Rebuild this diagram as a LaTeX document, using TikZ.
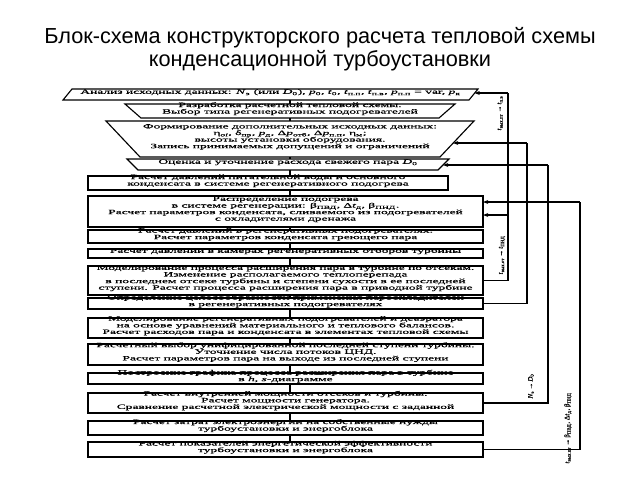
\documentclass[tikz,border=0pt]{standalone}
\usepackage{fontspec}
\setmainfont{Liberation Serif}
\newfontfamily\titlefont{Liberation Sans}
\newfontfamily\boxfont{Liberation Serif}[FakeStretch=2.04,FakeBold=0.8]
\newfontfamily\lblfont{Liberation Serif}[FakeBold=0.6]
\usetikzlibrary{arrows.meta,calc,fit}
\newcommand\sbs[1]{\textsubscript{#1}}
\tikzset{
  bx/.style={inner sep=0pt, align=center, text width=#1,
    font=\boxfont\fontsize{4.95}{4.95}\selectfont,
    execute at begin node={\baselineskip=4.95pt\lineskiplimit=-5pt\lineskip=0pt}},
  bx/.default=295pt,
  rbox/.style={bx=#1, draw, line width=0.85pt},
  rbox/.default=295pt,
  outline/.style={line width=0.85pt},
  conn/.style={line width=0.8pt},
  fb/.style={line width=0.8pt},
  tip/.style={-{Stealth[length=4pt,width=3pt]}},
  lbl/.style={rotate=90, inner sep=0pt, font=\lblfont\fontsize{5.2}{5.2}\selectfont},
  ttl/.style={align=center, inner sep=0pt, font=\titlefont\fontsize{16.3}{17.3}\selectfont}
}
\begin{document}
\begin{tikzpicture}[x=0.75pt,y=-0.75pt]
\useasboundingbox (0,0) rectangle (640,480);
\node[ttl] (title) at (320,49) {Блок-схема конструкторского расчета тепловой схемы\\конденсационной турбоустановки};

\coordinate (spine) at (290,0);
\coordinate (v1) at (508,0);
\coordinate (v2) at (527,0);
\coordinate (v3) at (548,0);
\coordinate (v4) at (580,0);

% box 1: parallelogram
\node[bx=305pt, fit={(63,89)(478,100)}] (b1) {Анализ исходных данных: \textit{N}\sbs{э} (или \textit{D}\sbs{0}), \textit{p}\sbs{0}, \textit{t}\sbs{0}, \textit{t}\sbs{п.п}, \textit{t}\sbs{п.в}, \textit{p}\sbs{п.п} = var, \textit{p}\sbs{к}};
\draw[outline] (72,89) -- (478,89) -- (469,100) -- (63,100) -- cycle;

% box 2
\node[bx=245pt, fit={(125,104)(455,118)}] (b2) {Разработка расчетной тепловой схемы.\\Выбор типа регенеративных подогревателей};
\draw[outline] (125,104) -- (455,104) -- (439,118) -- (141,118) -- cycle;

% box 3
\node[bx=274pt, fit={(106,121)(474,157)}] (b3) {Формирование дополнительных исходных данных:\\η\sbs{\textit{oi}}, δ\sbs{пр}, \textit{p}\sbs{д}, Δ\textit{p}\sbs{отб}, Δ\textit{p}\sbs{п.п}, η\sbs{м};\\высоты установки оборудования.\\Запись принимаемых допущений и ограничений};
\draw[outline] (106,121) -- (474,121) -- (440,157) -- (140,157) -- cycle;

% box 4
\node[bx=240pt, fit={(127,159)(449,170)}] (b4) {Оценка и уточнение расхода свежего пара \textit{D}\sbs{0}};
\draw[outline] (127,159) -- (449,159) -- (438,170) -- (138,170) -- cycle;

\node[rbox=268pt, fit={(88,176)(448,190)}] (b5) {Расчет давлений питательной воды и основного\\конденсата в системе регенеративного подогрева};
\node[rbox, fit={(88,196)(483,227)}] (b6) {Распределение подогрева\\в системе регенерации: β\sbs{ПВД}, Δ\textit{t}\sbs{д}, β\sbs{ПНД}.\\Расчет параметров конденсата, сливаемого из подогревателей\\с охладителями дренажа};
\node[rbox, fit={(88,230)(483,243)}] (b7) {Расчет давлений в регенеративных подогревателях.\\Расчет параметров конденсата греющего пара};
\node[rbox, fit={(88,249)(483,258)}] (b8) {Расчет давлений в камерах регенеративных отборов турбины};
\node[rbox, fit={(88,266)(483,295)}] (b9) {Моделирование процесса расширения пара в турбине по отсекам.\\Изменение располагаемого теплоперепада\\в последнем отсеке турбины и степени сухости в ее последней\\ступени. Расчет процесса расширения пара в приводной турбине};
\node[rbox, fit={(88,298)(483,309)}] (b10) {Определение целесообразности применения пароохладителей\\в регенеративных подогревателях};
\node[rbox, fit={(88,318)(483,338)}] (b11) {Моделирование регенеративных подогревателей и деаэратора\\на основе уравнений материального и теплового балансов.\\Расчет расходов пара и конденсата в элементах тепловой схемы};
\node[rbox, fit={(88,344)(483,365)}] (b12) {Расчетный выбор унифицированной последней ступени турбины.\\Уточнение числа потоков ЦНД.\\Расчет параметров пара на выходе из последней ступени};
\node[rbox, fit={(88,373)(483,384)}] (b13) {Построение графика процесса расширения пара в турбине\\в \textit{h}, \textit{s}-диаграмме};
\node[rbox, fit={(88,393)(483,413)}] (b14) {Расчет внутренней мощности отсеков и турбины.\\Расчет мощности генератора.\\Сравнение расчетной электрической мощности с заданной};
\node[rbox, fit={(88,421)(483,435)}] (b15) {Расчет затрат электроэнергии на собственные нужды\\турбоустановки и энергоблока};
\node[rbox, fit={(88,442)(483,457)}] (b16) {Расчет показателей энергетической эффективности\\турбоустановки и энергоблока};

% main connectors
\draw[conn] (b1.south -| spine) -- (b2.north -| spine);
\draw[conn] (b2.south -| spine) -- (b3.north -| spine);
\draw[conn] (b3.south -| spine) -- (b4.north -| spine);
\draw[conn] (b4.south -| spine) -- (b5.north -| spine);
\draw[conn] (b5.south -| spine) -- (b6.north -| spine);
\draw[conn] (b6.south -| spine) -- (b7.north -| spine);
\draw[conn] (b7.south -| spine) -- (b8.north -| spine);
\draw[conn] (b8.south -| spine) -- (b9.north -| spine);
\draw[conn] (b9.south -| spine) -- (b10.north -| spine);
\draw[conn] (b10.south -| spine) -- (b11.north -| spine);
\draw[conn] (b11.south -| spine) -- (b12.north -| spine);
\draw[conn] (b12.south -| spine) -- (b13.north -| spine);
\draw[conn] (b13.south -| spine) -- (b14.north -| spine);
\draw[conn] (b14.south -| spine) -- (b15.north -| spine);
\draw[conn] (b15.south -| spine) -- (b16.north -| spine);

% entry points on slanted edges
\coordinate (b1in) at (474.5,93);
\coordinate (b3in) at (453,143);
\coordinate (b4in) at (443,165);
\coordinate (b6a) at (483,202);
\coordinate (b6b) at (483,215);

% feedback loops
\draw[fb] (b9.east) -- (b9.east -| v1) -- (v1 |- b1in);
\draw[fb,tip] (v1 |- b1in) -- (b1in);
\draw[fb,tip] (v1 |- b6b) -- (b6b);
\draw[fb] (b10.east) -- (b10.east -| v2) -- (v2 |- b3in);
\draw[fb,tip] (v2 |- b3in) -- (b3in);
\draw[fb] (b14.east) -- (b14.east -| v3) -- (v3 |- b4in);
\draw[fb,tip] (v3 |- b4in) -- (b4in);
\draw[fb] (b16.east) -- (b16.east -| v4) -- (v4 |- b6a);
\draw[fb,tip] (v4 |- b6a) -- (b6a);

% labels
\node[lbl] (l1) at (500,113) {\textit{t}\sbs{вых.пт}\,→\,\textit{t}\sbs{п.в}};
\node[lbl] (l2) at (502,255) {\textit{t}\sbs{вых.от}\,→\,\textit{t}\sbs{ПНД}};
\node[lbl] (l3) at (531,386) {\textit{N}\sbs{э}\,→\,\textit{D}\sbs{0}};
\node[lbl] (l4) at (568,428) {\textit{t}\sbs{вых.пт}\,→\,β\sbs{ПВД}, Δ\textit{t}\sbs{д}, β\sbs{ПНД}};
\end{tikzpicture}
\end{document}
